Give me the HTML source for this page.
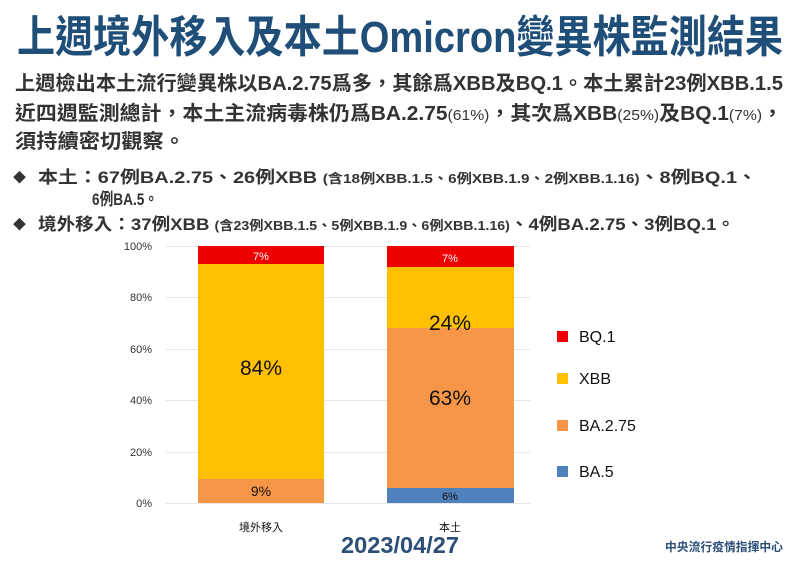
<!DOCTYPE html>
<html><head><meta charset="utf-8"><style>
html,body{margin:0;padding:0;background:#fff;}
svg{display:block;font-family:"Liberation Sans","Noto Sans CJK TC",sans-serif;}
</style></head><body>
<svg width="800" height="566" viewBox="0 0 800 566">
<text x="17" y="52" font-size="44" font-weight="bold" fill="#1f4e79" textLength="766" lengthAdjust="spacingAndGlyphs">上週境外移入及本土Omicron變異株監測結果</text>
<g fill="#333" font-weight="bold" font-size="20">
<text x="15" y="90" textLength="768" lengthAdjust="spacingAndGlyphs">上週檢出本土流行變異株以BA.2.75爲多，其餘爲XBB及BQ.1。本土累計23例XBB.1.5</text>
<text x="15" y="120" textLength="768" lengthAdjust="spacingAndGlyphs">近四週監測總計，本土主流病毒株仍爲BA.2.75<tspan font-size="15" font-weight="normal">(61%)</tspan>，其次爲XBB<tspan font-size="15" font-weight="normal">(25%)</tspan>及BQ.1<tspan font-size="15" font-weight="normal">(7%)</tspan>，</text>
<text x="15" y="148" textLength="170" lengthAdjust="spacingAndGlyphs">須持續密切觀察。</text>
</g>
<g fill="#333" font-weight="bold" font-size="17">
<text x="13" y="182" font-size="13">◆</text>
<text x="38" y="183" textLength="719" lengthAdjust="spacingAndGlyphs">本土：67例BA.2.75、26例XBB <tspan font-size="13">(含18例XBB.1.5、6例XBB.1.9、2例XBB.1.16)</tspan>、8例BQ.1、</text>
<text x="92" y="205" textLength="66" lengthAdjust="spacingAndGlyphs">6例BA.5。</text>
<text x="13" y="229" font-size="13">◆</text>
<text x="38" y="230" textLength="697" lengthAdjust="spacingAndGlyphs">境外移入：37例XBB <tspan font-size="13">(含23例XBB.1.5、5例XBB.1.9、6例XBB.1.16)</tspan>、4例BA.2.75、3例BQ.1。</text>
</g>
<g stroke="#e6e6e6" stroke-width="1">
<line x1="166" y1="246.5" x2="530" y2="246.5"/>
<line x1="166" y1="297.5" x2="530" y2="297.5"/>
<line x1="166" y1="349.5" x2="530" y2="349.5"/>
<line x1="166" y1="400.5" x2="530" y2="400.5"/>
<line x1="166" y1="452.5" x2="530" y2="452.5"/>
<line x1="166" y1="503.5" x2="530" y2="503.5"/>
</g>
<g font-size="11" fill="#333" text-anchor="end">
<text x="152" y="250">100%</text><text x="152" y="301">80%</text><text x="152" y="353">60%</text>
<text x="152" y="404">40%</text><text x="152" y="456">20%</text><text x="152" y="507">0%</text>
</g>
<rect x="198" y="246" width="126" height="18" fill="#ee0000"/>
<rect x="198" y="264" width="126" height="215" fill="#ffc000"/>
<rect x="198" y="479" width="126" height="24" fill="#f79646"/>
<rect x="387" y="246" width="127" height="21" fill="#ee0000"/>
<rect x="387" y="267" width="127" height="61" fill="#ffc000"/>
<rect x="387" y="328" width="127" height="160" fill="#f79646"/>
<rect x="387" y="488" width="127" height="15" fill="#4f81bd"/>
<g text-anchor="middle" fill="#111">
<text x="261" y="260" font-size="11" fill="#fff">7%</text>
<text x="261" y="375" font-size="21">84%</text>
<text x="261" y="496" font-size="14">9%</text>
<text x="450" y="262" font-size="11" fill="#fff">7%</text>
<text x="450" y="330" font-size="21">24%</text>
<text x="450" y="405" font-size="21">63%</text>
<text x="450" y="500" font-size="11">6%</text>
<text x="261" y="531" font-size="11">境外移入</text>
<text x="450" y="531" font-size="11">本土</text>
</g>
<rect x="557" y="331" width="11" height="11" fill="#ee0000"/>
<rect x="557" y="373" width="11" height="11" fill="#ffc000"/>
<rect x="557" y="420" width="11" height="11" fill="#f79646"/>
<rect x="557" y="466" width="11" height="11" fill="#4f81bd"/>
<g font-size="16" fill="#111">
<text x="579" y="342">BQ.1</text><text x="579" y="384">XBB</text>
<text x="579" y="431">BA.2.75</text><text x="579" y="477">BA.5</text>
</g>
<text x="400" y="553" text-anchor="middle" font-size="23" font-weight="bold" fill="#2c4f78" textLength="118" lengthAdjust="spacingAndGlyphs">2023/04/27</text>
<text x="665" y="551" font-size="12" font-weight="bold" fill="#2c4f78" textLength="118" lengthAdjust="spacingAndGlyphs">中央流行疫情指揮中心</text>
</svg>
</body></html>
